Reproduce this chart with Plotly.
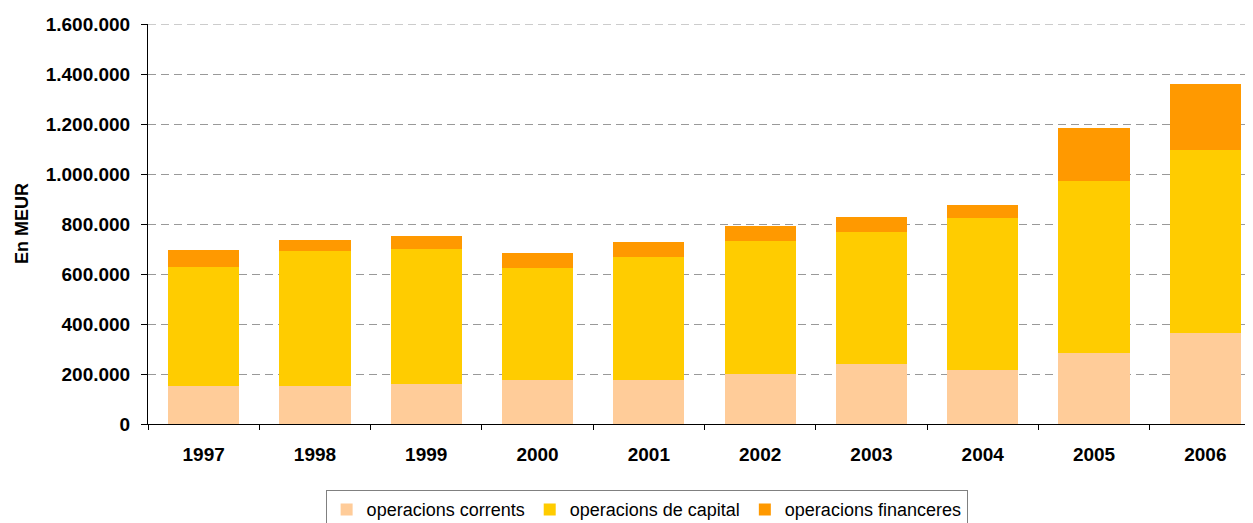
import plotly.graph_objects as go

years = ["1997", "1998", "1999", "2000", "2001", "2002", "2003", "2004", "2005", "2006"]

# values
operacions_corrents = [154000, 154000, 160000, 177000, 178000, 200000, 241000, 217000, 285000, 365000]
operacions_capital = [476000, 540000, 541000, 448000, 491000, 534000, 529000, 608000, 689000, 732000]
operacions_financeres = [67000, 43000, 51000, 61000, 60000, 59000, 59000, 53000, 212000, 265000]

y_ticks = [0, 200000, 400000, 600000, 800000, 1000000, 1200000, 1400000, 1600000]

fnt = "Liberation Sans, Arial, sans-serif"

fig = go.Figure()
fig.add_trace(go.Bar(x=years, y=operacions_corrents, name="operacions corrents",
                     marker=dict(color="#FFCC99", line=dict(width=0))))
fig.add_trace(go.Bar(x=years, y=operacions_capital, name="operacions de capital",
                     marker=dict(color="#FFCC00", line=dict(width=0))))
fig.add_trace(go.Bar(x=years, y=operacions_financeres, name="operacions financeres",
                     marker=dict(color="#FF9900", line=dict(width=0))))

# page body adds an 8px offset, so the right / bottom edges are cut like the original
fig.update_layout(
    barmode="stack",
    bargap=0.36,
    width=1253, height=523,
    margin=dict(l=140, r=0, t=16, b=107),
    plot_bgcolor="white",
    paper_bgcolor="white",
    separators=",.",
    font=dict(family=fnt, size=18, color="black"),
    legend=dict(orientation="h", x=0.448, xanchor="center",
                yref="container", y=0.078, yanchor="top",
                bordercolor="#808080", borderwidth=1, font=dict(size=18),
                itemwidth=30, traceorder="normal"),
)
fig.update_xaxes(type="category", range=[-0.5, 9.5], showline=True, linecolor="black",
                 linewidth=1, ticks="outside", tickson="boundaries", ticklen=5,
                 tickcolor="black", tickfont=dict(size=19, family=fnt, weight="bold"),
                 ticklabelstandoff=13, showgrid=False, automargin=False)
fig.update_yaxes(range=[0, 1600000], tickvals=y_ticks, tickformat=",d",
                 showline=True, linecolor="black", linewidth=1,
                 ticks="outside", ticklen=6, tickcolor="black",
                 tickfont=dict(size=19, family=fnt, weight="bold"),
                 ticklabelstandoff=7,
                 showgrid=True, gridcolor="#999999", griddash="8px,5px", gridwidth=1,
                 zeroline=False, automargin=False)

# top gridline (plotly skips the one on the plot edge)
fig.add_shape(type="line", xref="paper", x0=0, x1=1, yref="y", y0=y_ticks[-1], y1=y_ticks[-1],
              line=dict(color="#999999", width=1, dash="8px,5px"), layer="below")

fig.add_annotation(text="<b>En MEUR</b>", textangle=-90, xref="paper", yref="paper",
                   x=-0.1132, y=0.5, xanchor="center", yanchor="middle", showarrow=False,
                   font=dict(size=18, family=fnt))

fig.write_html("out.html")
